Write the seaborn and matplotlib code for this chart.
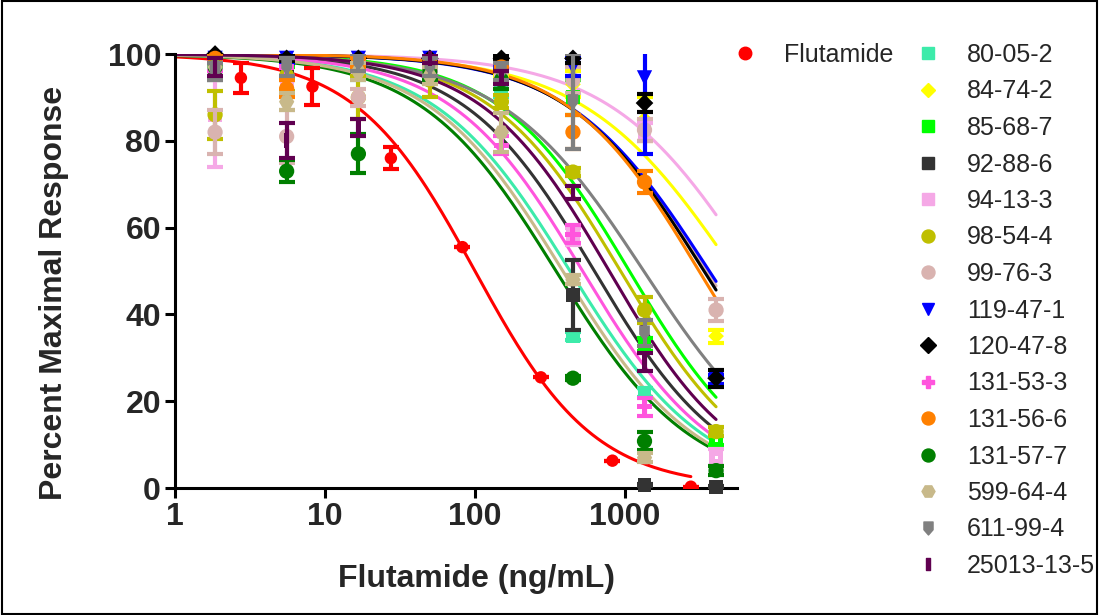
import numpy as np
import pandas as pd
import matplotlib
matplotlib.use("Agg")
import matplotlib.pyplot as plt
import seaborn as sns
from matplotlib.lines import Line2D
from matplotlib.path import Path
from matplotlib.patches import Rectangle

nan = np.nan
# ---------------- data ----------------
compounds = ["80-05-2", "84-74-2", "85-68-7", "92-88-6", "94-13-3", "98-54-4",
             "99-76-3", "119-47-1", "120-47-8", "131-53-3", "131-56-6",
             "131-57-7", "599-64-4", "611-99-4", "25013-13-5"]
colors = ["#3DEBAA", "#FFFF00", "#00FF00", "#333333", "#F5A8E6", "#BFBF00",
          "#D9B3B0", "#0000FF", "#000000", "#FF55DD", "#FF8000",
          "#007F00", "#C8B98A", "#808080", "#600050"]

conc = [1.85, 5.55, 16.7, 50, 150, 450, 1350, 4050]

flut_conc = [2.75, 8.25, 27.5, 82.5, 275, 825, 2750]
flut_mean = [94.5, 92.5, 76.0, 55.5, 25.5, 6.3, 0.3]
flut_sem = [3.5, 4.3, 2.6, 0.0, 0.0, 0.0, 0.0]
flut_ic50, flut_hill = 100.0, 1.09

mean_80_05_2 = [98, 97, 96, 97, 92, 35, 22, nan]
sem_80_05_2 = [2, 2, 2, 2, 2, 1, 1, 1]
mean_84_74_2 = [99, 98, 99, 98, 97, 93, 85, 35]
sem_84_74_2 = [1, 1, 1, 1, 2, 3, 5, 1.5]
mean_85_68_7 = [99, 98, 98, 97, 96.5, 90, 33, 11]
sem_85_68_7 = [1, 1, 1, 2, 3.5, 4, 1.5, 1]
mean_92_88_6 = [97, 96, 98, 97, 95, 44.5, 0.7, 0.2]
sem_92_88_6 = [3, 2, 2, 2, 2, 8, 0.3, 0.3]
mean_94_13_3 = [86, 93, 97, 98, 95, 58, 82, 7]
sem_94_13_3 = [12, 2, 2, 2, 2, 2, 2, 2]
mean_98_54_4 = [86, 95, 90, 94, 89, 72.8, 41, 13]
sem_98_54_4 = [5.5, 3.5, 5, 4, 1.5, 1, 3, 1]
mean_99_76_3 = [82, 81, 90, 95, 96, 94, 82.5, 41]
sem_99_76_3 = [5, 6, 2, 2, 2, 3, 2.5, 2.5]
mean_119_47_1 = [99, 99, 99, 99, 98, 97, 94.5, 25]
sem_119_47_1 = [1, 1, 1, 1, 1, 2, 17.5, 1]
mean_120_47_8 = [100, 99, 99, 99, 99, 99, 88.7, 25.3]
sem_120_47_8 = [0.5, 0.5, 0.5, 0.5, 0.5, 1, 2, 2]
mean_131_53_3 = [98, 97, 98, 97, 79, 58.5, 18.7, nan]
sem_131_53_3 = [2, 2, 2, 2, 2, 2, 2, 2]
mean_131_56_6 = [99, 92, 98, 98, 97, 82, 70.5, nan]
sem_131_56_6 = [1, 2, 1, 1, 1, 4, 2.5, 2]
mean_131_57_7 = [97, 73, 77, 96, 94, 25.3, 10.8, 4]
sem_131_57_7 = [2, 2.5, 4.5, 2, 2, 0.5, 2, 1]
mean_599_64_4 = [97, 89, 96, 95, 82, 48, 7, nan]
sem_599_64_4 = [2, 2, 2, 2, 4.5, 1, 1, 1]
mean_611_99_4 = [96, 97, 98, 97, 96, 89, 35.7, nan]
sem_611_99_4 = [2, 2, 2, 2, 2, 11, 3, 2]
mean_25013_13_5 = [97, 80, 83, 99, 94.5, 68, 29, nan]
sem_25013_13_5 = [2, 4, 2, 1, 1.5, 1.5, 2, 2]

# fitted curve parameters (IC50 in ng/mL, Hill slope)
ic50s = [430, 5380, 1070, 625, 7300, 933, 3500, 3650, 3365, 521, 3120,
         347, 385, 1334, 785]
hills = [0.96, 0.86, 1.0, 1.0, 0.9, 1.0, 0.94, 0.92, 0.95, 0.99, 0.99,
         0.96, 0.97, 0.91, 1.02]

means = [mean_80_05_2, mean_84_74_2, mean_85_68_7, mean_92_88_6, mean_94_13_3,
         mean_98_54_4, mean_99_76_3, mean_119_47_1, mean_120_47_8,
         mean_131_53_3, mean_131_56_6, mean_131_57_7, mean_599_64_4,
         mean_611_99_4, mean_25013_13_5]
sems = [sem_80_05_2, sem_84_74_2, sem_85_68_7, sem_92_88_6, sem_94_13_3,
        sem_98_54_4, sem_99_76_3, sem_119_47_1, sem_120_47_8,
        sem_131_53_3, sem_131_56_6, sem_131_57_7, sem_599_64_4,
        sem_611_99_4, sem_25013_13_5]

# ---------------- markers ----------------
arrow = Path([(-0.7, 1.0), (0.7, 1.0), (0.7, -0.2), (0.0, -1.0), (-0.7, -0.2), (-0.7, 1.0)],
             [Path.MOVETO, Path.LINETO, Path.LINETO, Path.LINETO, Path.LINETO, Path.CLOSEPOLY])
bar = Path([(-0.3, -1.0), (0.3, -1.0), (0.3, 1.0), (-0.3, 1.0), (-0.3, -1.0)],
           [Path.MOVETO, Path.LINETO, Path.LINETO, Path.LINETO, Path.CLOSEPOLY])
markers = ["s", "D", "s", "s", "s", "o", "o", "v", "D", "P", "o", "o", "H", arrow, bar]
msizes = [10, 8, 10, 10, 10, 11, 11, 11, 9, 11, 11, 11, 11, 11, 11]
dotted = [False, False, True, False, True] + [False] * 10

# ---------------- figure ----------------
sns.set_theme(style="ticks")
plt.rcParams["font.family"] = ["Liberation Sans", "DejaVu Sans"]

fig = plt.figure(figsize=(10.99, 6.15), dpi=100)
ax = fig.add_axes([175 / 1099, 1 - 488 / 615, (737 - 175) / 1099, (488 - 54) / 615])
ax.set_xscale("log")

# curves
rows = []
xs = np.logspace(0, np.log10(flut_conc[-1]), 200)
for xv in xs:
    rows.append(("Flutamide", xv, 100.0 / (1 + (xv / flut_ic50) ** flut_hill)))
xs = np.logspace(0, np.log10(conc[-1]), 200)
for name, c50, h in zip(compounds, ic50s, hills):
    for xv in xs:
        rows.append((name, xv, 100.0 / (1 + (xv / c50) ** h)))
curve_df = pd.DataFrame(rows, columns=["compound", "conc", "resp"])
pal = {"Flutamide": "#FF0000"}
pal.update(dict(zip(compounds, colors)))
sns.lineplot(data=curve_df, x="conc", y="resp", hue="compound", palette=pal,
             estimator=None, sort=False, linewidth=2.2, legend=False, ax=ax, zorder=2)

# data points
EW, CS = 3.0, 5.5
ax.errorbar(flut_conc, flut_mean, yerr=flut_sem, fmt="none", ecolor="#FF0000",
            elinewidth=EW, capsize=CS, capthick=EW, zorder=3)
sns.scatterplot(x=flut_conc, y=flut_mean, color="#FF0000", marker="o", s=80,
                edgecolor="none", ax=ax, zorder=4)
for i, name in enumerate(compounds):
    z = 3 + i * 0.02
    ax.errorbar(conc, means[i], yerr=sems[i], fmt="none", ecolor=colors[i],
                elinewidth=EW, capsize=CS, capthick=EW, zorder=z)
    sns.scatterplot(x=conc, y=means[i], color=colors[i], marker=markers[i],
                    s=msizes[i] ** 2, edgecolor="none", ax=ax, zorder=z + 0.01,
                    clip_on=False)
    if dotted[i]:
        sns.scatterplot(x=conc, y=means[i], color="white", marker="s", s=5,
                        edgecolor="none", ax=ax, zorder=z + 0.011, clip_on=False)

# axes styling
ax.set_xlim(1, 10 ** 3.747)
ax.set_ylim(0, 100)
ax.set_xticks([1, 10, 100, 1000])
ax.set_xticklabels(["1", "10", "100", "1000"])
ax.xaxis.set_minor_locator(matplotlib.ticker.NullLocator())
ax.set_yticks([0, 20, 40, 60, 80, 100])
for s in ["top", "right"]:
    ax.spines[s].set_visible(False)
for s in ["left", "bottom"]:
    ax.spines[s].set_linewidth(2.2)
    ax.spines[s].set_color("black")
ax.tick_params(axis="both", length=7, width=2.2, color="black", labelsize=23,
               pad=3, direction="out")
for lab in ax.get_xticklabels() + ax.get_yticklabels():
    lab.set_fontweight("bold")
ax.set_xlabel("Flutamide (ng/mL)", fontsize=23, fontweight="bold", labelpad=16)
ax.xaxis.set_label_coords(0.536, -0.175)
ax.set_ylabel("Percent Maximal Response", fontsize=23, fontweight="bold", labelpad=28)
ax.yaxis.label.set_y(0.45)

# legends
h_flut = [Line2D([], [], marker="o", color="#FF0000", linestyle="none", markersize=9)]
leg1 = ax.legend(h_flut, ["Flutamide"], loc="upper left", bbox_to_anchor=(734 / 1099, 1 - 43 / 615),
                 bbox_transform=fig.transFigure, frameon=False, fontsize=18,
                 handlelength=0.9, handletextpad=1.1, borderpad=0, borderaxespad=0)
ax.add_artist(leg1)
h_rest = [Line2D([], [], marker=markers[i], color=colors[i], linestyle="none",
                 markersize=msizes[i] * 0.85) for i in range(len(compounds))]
ax.legend(h_rest, compounds, loc="upper left", bbox_to_anchor=(917 / 1099, 1 - 43 / 615),
          bbox_transform=fig.transFigure, frameon=False, fontsize=18,
          handlelength=0.9, handletextpad=1.1, borderpad=0, borderaxespad=0,
          labelspacing=0.5)

fig.patches.append(Rectangle((0.0015, 0.002), 0.997, 0.996, transform=fig.transFigure,
                             fill=False, edgecolor="black", linewidth=1.5))

fig.savefig("out.png", dpi=100)
